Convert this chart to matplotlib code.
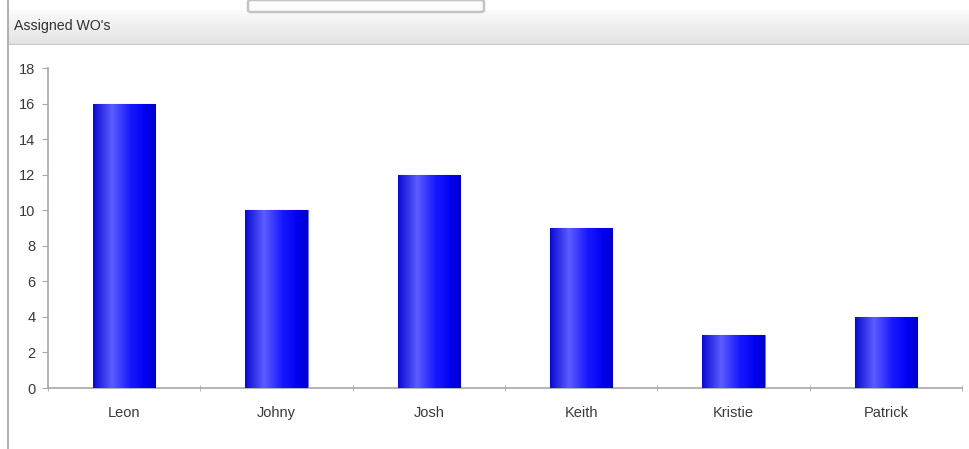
import numpy as np
import matplotlib
matplotlib.use('Agg')
import matplotlib.pyplot as plt
from matplotlib.patches import Rectangle, FancyBboxPatch

plt.rcParams['font.family'] = ['Liberation Sans', 'DejaVu Sans']

title = "Assigned WO's"
names = ['Leon', 'Johny', 'Josh', 'Keith', 'Kristie', 'Patrick']
wo_counts = [16, 10, 12, 9, 3, 4]
y_ticks = [0, 2, 4, 6, 8, 10, 12, 14, 16, 18]

text_col = '#3a3a3a'
axis_col = '#a8a8a8'

fig = plt.figure(figsize=(9.69, 4.49), dpi=100)
fig.patch.set_facecolor('white')

# panel chrome: left border, header strip, tab at the top
fig.add_artist(Rectangle((7 / 969, 0), 2 / 969, 1, transform=fig.transFigure,
                         color='#b0b0b0', lw=0))
hdr = fig.add_axes([9 / 969, 1 - 45 / 449, 1 - 9 / 969, 35 / 449])
grad = np.linspace(0, 1, 64).reshape(-1, 1)
hdr.imshow(grad, aspect='auto', cmap=matplotlib.colors.LinearSegmentedColormap.from_list(
    'hdr', ['#fbfbfb', '#e2e2e2']), extent=[0, 1, 0, 1])
hdr.axhline(0.0, color='#c8c8c8', lw=1.5)
hdr.set_axis_off()
hdr.text(5 / 960, 0.55, title, fontsize=10.2, color='#303030', va='center', ha='left',
         transform=hdr.transAxes)
fig.add_artist(FancyBboxPatch((248 / 969, 1 - 12 / 449), 236 / 969, 12 / 449,
                              boxstyle='round,pad=0,rounding_size=0.004',
                              transform=fig.transFigure, fc='#fcfcfc', ec='#c4c4c4', lw=1.8))

ax = fig.add_axes([48 / 969, 1 - 388 / 449, 914 / 969, 320 / 449])
x = np.arange(len(names))
bar_w = 0.41
bars = ax.bar(x, wo_counts, width=bar_w, color='#1010ff', edgecolor='#7070ff', lw=0.8, zorder=2)

# horizontal shading across each bar
shade = matplotlib.colors.LinearSegmentedColormap.from_list(
    'shade', [(0, '#0a0ad0'), (0.3, '#5c5cff'), (0.6, '#1818ff'), (0.85, '#0000f0'), (1, '#0000c8')])
ramp = np.linspace(0, 1, 128).reshape(1, -1)
for b in bars:
    im = ax.imshow(ramp, cmap=shade, aspect='auto', zorder=3,
                   extent=[b.get_x(), b.get_x() + b.get_width(), 0, b.get_height()])
    im.set_clip_path(b)

ax.set_xlim(-0.5, len(names) - 0.5)
ax.set_ylim(0, 18)
ax.set_yticks(y_ticks)
ax.set_yticklabels([str(v) for v in y_ticks])
ax.set_xticks(x)
ax.set_xticklabels(names)
ax.set_xticks(np.arange(len(names) + 1) - 0.5, minor=True)
ax.tick_params(axis='x', which='major', length=0, pad=13, labelsize=10.5, labelcolor=text_col)
ax.tick_params(axis='x', which='minor', length=4, direction='inout', color=axis_col)
ax.tick_params(axis='y', length=4, color=axis_col, pad=5, labelsize=10.5, labelcolor=text_col)
for s in ['top', 'right']:
    ax.spines[s].set_visible(False)
for s in ['left', 'bottom']:
    ax.spines[s].set_color(axis_col)
    ax.spines[s].set_linewidth(1.2)

fig.savefig('out.png', dpi=100)
